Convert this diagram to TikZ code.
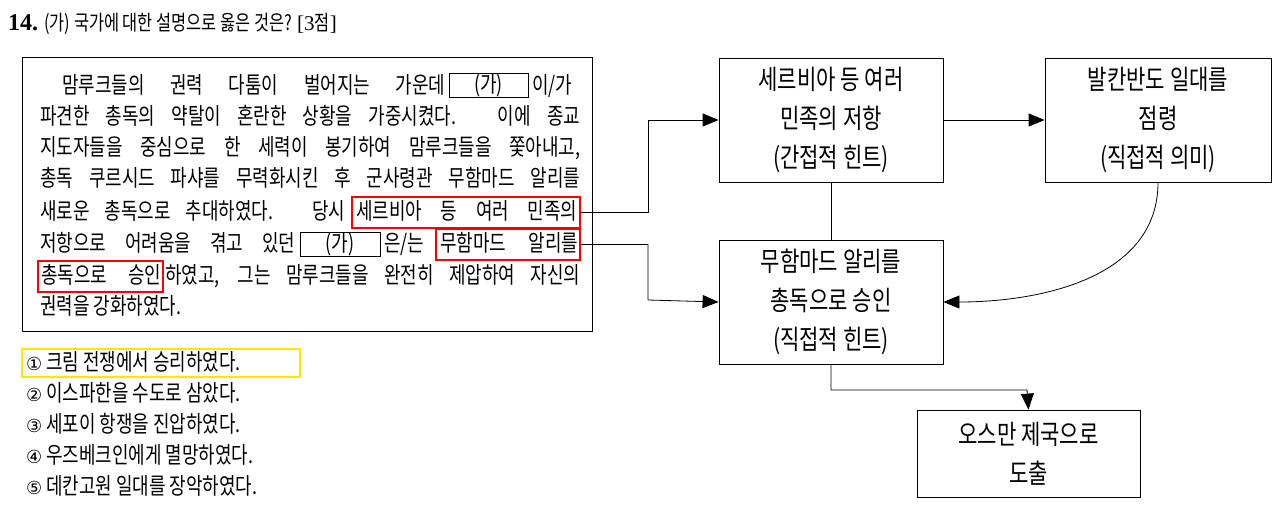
\documentclass[tikz,border=0pt]{standalone}
\usepackage{fontspec}
\setmainfont{Noto Sans CJK KR}
\newfontfamily\narrow[FakeStretch=0.78]{Noto Sans CJK KR}
\newfontfamily\numfont{Liberation Serif}
\newfontfamily\symfont{DejaVu Sans}
\usetikzlibrary{arrows.meta}
\begin{document}
\begin{tikzpicture}[x=1pt,y=-1pt,
  ptext/.style={inner sep=0pt,font=\narrow\fontsize{23}{26}\selectfont},
  flow/.style={draw,thick,minimum width=224pt,align=center,font=\narrow\fontsize{27}{39}\selectfont,inner sep=0pt},
  redbox/.style={draw=red,line width=2.2pt,inner sep=0pt},
  gabox/.style={draw,inner sep=0pt},
  conn/.style={thick},
  arr/.style={thick,-{Triangle[length=16pt,width=13pt]}}]
\useasboundingbox (0,0) rectangle (1280,509);
\fill[white] (0,0) rectangle (1280,509);
% title
\node[anchor=base west,inner sep=0pt] (title) at (8,30) {{\numfont\bfseries\fontsize{24}{26}\selectfont 14.}\hspace{6pt}{\narrow\fontsize{21}{24}\selectfont (가) 국가에 대한 설명으로 옳은 것은? {\numfont [3}점{\numfont ]}}};
% passage box
\draw[thick] (22,57) rectangle (592,331);
\node[ptext,anchor=base west] (l1a) at (62,93) {\makebox[383pt][s]{맘루크들의 권력 다툼이 벌어지는 가운데}};
\node[gabox,minimum width=79pt,minimum height=24pt] (ga1) at (488.5,85) {};
\node[ptext] at (ga1) {(가)};
\node[ptext,anchor=base west] (l1b) at (532,93) {\makebox[48pt][s]{이/가}};
\node[ptext,anchor=base west] (l2) at (40,124) {\makebox[540pt][s]{파견한 총독의 약탈이 혼란한 상황을 가중시켰다. 이에 종교}};
\node[ptext,anchor=base west] (l3) at (40,155) {\makebox[540pt][s]{지도자들을 중심으로 한 세력이 봉기하여 맘루크들을 쫓아내고,}};
\node[ptext,anchor=base west] (l4) at (40,186) {\makebox[540pt][s]{총독 쿠르시드 파샤를 무력화시킨 후 군사령관 무함마드 알리를}};
\node[ptext,anchor=base west] (l5a) at (40,219) {\makebox[305pt][s]{새로운 총독으로 추대하였다. 당시}};
\node[redbox,minimum width=228pt,minimum height=31pt] (r1) at (466,212.5) {};
\node[ptext,anchor=base west] at (356,219) {\makebox[221pt][s]{세르비아 등 여러 민족의}};
\node[ptext,anchor=base west] (l6a) at (40,251) {\makebox[255pt][s]{저항으로 어려움을 겪고 있던}};
\node[gabox,minimum width=80pt,minimum height=24pt] (ga2) at (340,244.5) {};
\node[ptext] at (ga2) {(가)};
\node[ptext,anchor=base west] (l6b) at (384,251) {\makebox[48pt][s]{은/는}};
\node[redbox,minimum width=144pt,minimum height=31pt] (r2) at (508,244.5) {};
\node[ptext,anchor=base west] at (440,251) {\makebox[138pt][s]{무함마드 알리를}};
\node[redbox,minimum width=125pt,minimum height=31pt] (r3) at (100.5,276.5) {};
\node[ptext,anchor=base west] at (41,283) {\makebox[120pt][s]{총독으로 승인}};
\node[ptext,anchor=base west] (l7) at (165,283) {\makebox[415pt][s]{하였고, 그는 맘루크들을 완전히 제압하여 자신의}};
\node[ptext,anchor=base west] (l8) at (40,314) {권력을 강화하였다.};
% choices
\draw[draw=yellow!90!orange,line width=2pt] (22,349) rectangle (300,377);
\node[ptext,anchor=base west] (c1) at (26,370) {{\symfont\fontsize{18}{20}\selectfont ①} 크림 전쟁에서 승리하였다.};
\node[ptext,anchor=base west] (c2) at (26,401) {{\symfont\fontsize{18}{20}\selectfont ②} 이스파한을 수도로 삼았다.};
\node[ptext,anchor=base west] (c3) at (26,432) {{\symfont\fontsize{18}{20}\selectfont ③} 세포이 항쟁을 진압하였다.};
\node[ptext,anchor=base west] (c4) at (26,463) {{\symfont\fontsize{18}{20}\selectfont ④} 우즈베크인에게 멸망하였다.};
\node[ptext,anchor=base west] (c5) at (26,494) {{\symfont\fontsize{18}{20}\selectfont ⑤} 데칸고원 일대를 장악하였다.};
% flow boxes
\node[flow,minimum height=124pt] (A) at (831,120) {세르비아 등 여러\\민족의 저항\\(간접적 힌트)};
\node[flow,minimum height=124pt,minimum width=226pt] (B) at (1158,120) {발칸반도 일대를\\점령\\(직접적 의미)};
\node[flow,minimum height=124pt] (C) at (831,302) {무함마드 알리를\\총독으로 승인\\(직접적 힌트)};
\node[flow,minimum height=87pt,minimum width=223pt] (D) at (1028.5,453.5) {오스만 제국으로\\도출};
% connectors
\draw[arr] (r1.east) -| (648,120) -- (A.west);
\draw[arr] (r2.east) -| (648,300) -- (C.west);
\draw[arr] (A.east) -- (B.west);
\draw[conn] (A.south) -- (C.north);
\draw[arr] (B.south) to[out=-90,in=0,looseness=1] (C.east);
\coordinate (k) at (1027,390);
\draw[arr] (C.south) |- (k) -- (D.north);
\end{tikzpicture}
\end{document}
